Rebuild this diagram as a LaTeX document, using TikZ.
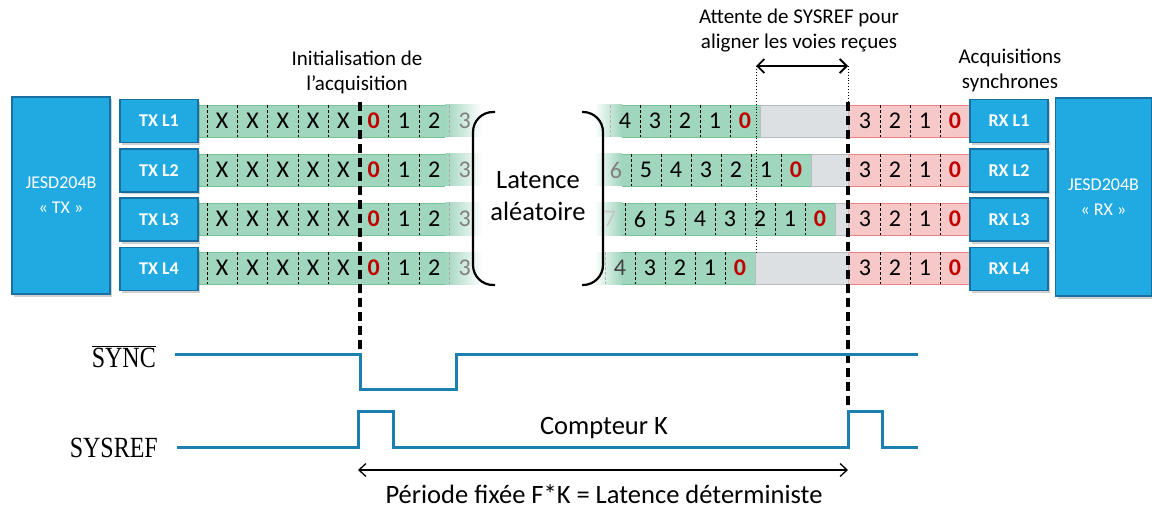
\documentclass[tikz,border=0pt]{standalone}
\usepackage{fontspec}
\usepackage{graphicx}
\setmainfont{Carlito}
\newfontfamily\serif{Liberation Serif}
\usetikzlibrary{shadows,arrows.meta}
\definecolor{blk}{RGB}{33,170,225}
\definecolor{blkborder}{RGB}{24,112,160}
\definecolor{cellg}{RGB}{160,213,190}
\definecolor{cellgb}{RGB}{120,195,150}
\definecolor{cellp}{RGB}{246,200,200}
\definecolor{cellpb}{RGB}{238,130,130}
\definecolor{cellgr}{RGB}{221,224,227}
\definecolor{cellgrb}{RGB}{185,188,190}
\definecolor{sig}{RGB}{27,128,176}
\definecolor{zero}{RGB}{192,0,0}
\begin{document}
\begin{tikzpicture}[x=1pt,y=-1pt,
  blockbox/.style={draw=blkborder, line width=1.2pt, fill=blk, text=white, inner sep=0, align=center,
    drop shadow={opacity=0.3, shadow xshift=2pt, shadow yshift=-2.5pt, fill=black!60}},
  lanebox/.style={blockbox, minimum width=78pt, minimum height=43pt, font=\fontsize{18}{18}\selectfont\bfseries},
  dig/.style={inner sep=0, font=\fontsize{24}{24}\selectfont},
  zdig/.style={inner sep=0, font=\fontsize{24}{24}\selectfont\bfseries, text=zero},
  divider/.style={line width=0.8pt, dash pattern=on 3pt off 2pt},
  bigdash/.style={line width=3.5pt, dash pattern=on 9pt off 5pt},
  wave/.style={sig, line width=3pt},
  lbl/.style={inner sep=0, align=center, font=\fontsize{21}{25}\selectfont},
  biglbl/.style={inner sep=0, align=center, font=\fontsize{26.5}{32}\selectfont},
  siglbl/.style={inner sep=0, anchor=east, font=\serif\fontsize{24}{24}\selectfont},
]
\useasboundingbox[fill=white] (0,0) rectangle (1152,508);

% ---------- TX side strips ----------
\foreach \i/\y in {1/121,2/170,3/219,4/268} {
  \fill[cellg] (199,\y-16) rectangle (445,\y+16);
  \shade[left color=cellg, right color=white] (445,\y-16) rectangle (482,\y+16);
  \draw[cellgb, line width=0.8pt] (199,\y-16) -- (445,\y-16) (199,\y+16) -- (445,\y+16);
  \foreach \k in {0,1,2,3,4,6,7}
    \draw[divider] ({207+30.3*\k},\y-16) -- ++(0,32);
  \draw[divider, gray!70] (449.4,\y-16) -- ++(0,32);
  \foreach \k in {0,...,4}
    \node[dig] (tx\i-x\k) at ({222.2+30.3*\k},\y) {X};
  \node[zdig] (tx\i-d0) at (373.7,\y) {0};
  \node[dig] (tx\i-d1) at (404,\y) {1};
  \node[dig] (tx\i-d2) at (434.3,\y) {2};
  \node[dig, text=gray] (tx\i-d3) at (464.6,\y) {3};
}

% ---------- received strips ----------
\foreach \i/\y/\first/\n/\fc in {1/121/625/4/black, 2/170/616/6/gray, 3/219/610/7/gray!45, 4/268/620/4/black!75} {
  \pgfmathsetmacro\gend{\first+30*\n+15}
  \fill[cellg] (622,\y-16) rectangle (\gend,\y+16);
  \shade[left color=white, right color=cellg] (594,\y-16) rectangle (622,\y+16);
  \draw[cellgb, line width=0.8pt] (622,\y-16) -- (\gend,\y-16) -- (\gend,\y+16) -- (622,\y+16);
  \filldraw[fill=cellgr, draw=cellgrb, line width=0.8pt] (\gend,\y-16) rectangle (848,\y+16);
  \foreach \k in {1,...,\n}
    \draw[divider] ({\first+30*\k-15},\y-16) -- ++(0,32);
  \node[dig, text=\fc] (rl\i-first) at (\first,\y) {\n};
  \pgfmathtruncatemacro\nm{\n-1}
  \foreach \k in {1,...,\nm} {
    \pgfmathtruncatemacro\d{\n-\k}
    \node[dig] (rl\i-\k) at ({\first+30*\k},\y) {\d};
  }
  \node[zdig] (rl\i-zero) at ({\first+30*\n},\y) {0};
}
\draw[divider, gray!60] (610,105) -- ++(0,32);
\draw[divider, gray!60] (605,252) -- ++(0,32);

% ---------- RX strips ----------
\foreach \i/\y in {1/121,2/170,3/219,4/268} {
  \fill[cellp] (849,\y-16) rectangle (970,\y+16);
  \draw[cellpb, line width=0.8pt] (849,\y-16) -- (970,\y-16) (849,\y+16) -- (970,\y+16);
  \foreach \xx in {880,910,940}
    \draw[divider] (\xx,\y-16) -- ++(0,32);
  \node[dig] (rx\i-d3) at (865,\y) {3};
  \node[dig] (rx\i-d2) at (895,\y) {2};
  \node[dig] (rx\i-d1) at (925,\y) {1};
  \node[zdig] (rx\i-d0) at (955,\y) {0};
}

% ---------- blocks ----------
\node[blockbox, minimum width=98pt, minimum height=197pt, font=\fontsize{18}{25}\selectfont] (txblk) at (61,195.5) {JESD204B\\« TX »};
\node[blockbox, minimum width=96pt, minimum height=198pt, font=\fontsize{18}{25}\selectfont] (rxblk) at (1103.5,197) {JESD204B\\« RX »};
\foreach \i/\y in {1/121,2/170.5,3/219.5,4/269} {
  \node[lanebox] (tx\i) at (159,\y) {TX L\i};
  \node[lanebox] (rx\i) at (1009,\y) {RX L\i};
}

% ---------- latency bracket ----------
\draw[line width=2.2pt, rounded corners=20pt] (495,112) -- (473,112) -- (473,285) -- (495,285);
\draw[line width=2.2pt, rounded corners=20pt] (582,112) -- (603,112) -- (603,285) -- (582,285);
\node[biglbl] (lat) at (538,196) {Latence\\aléatoire};

% ---------- markers ----------
\coordinate (d1top) at (360,102);
\coordinate (d1bot) at (360,351);
\coordinate (d2top) at (848,102);
\coordinate (d2bot) at (848,406);
\draw[bigdash] (d1top) -- (d1bot);
\draw[bigdash] (d2top) -- (d2bot);

\coordinate (w1) at (756,66);
\coordinate (w2) at (848,66);
\coordinate (w1b) at (756,253);
\draw[line width=0.9pt, dotted] (w1) -- (w1b);
\draw[line width=0.9pt, dotted] (w2) -- (d2top);
\draw[line width=1.8pt, {Straight Barb[length=7pt,width=14pt]}-{Straight Barb[length=7pt,width=14pt]}] (w1) -- (w2);

% ---------- waveforms ----------
\node[siglbl] (synclbl) at (156,357) {\scalebox{1}[1.22]{$\overline{\hbox{SYNC}}$}};
\node[siglbl] (sysreflbl) at (158,448) {\scalebox{1}[1.22]{SYSREF}};
\draw[wave] (175,354) -- (360,354) -- (360,389) -- (456,389) -- (456,354) -- (918,354);
\draw[wave] (177,447) -- (358,447) -- (358,411) -- (393,411) -- (393,447) -- (848,447) -- (848,411) -- (882,411) -- (882,447) -- (918,447);

\coordinate (p1) at (358,470);
\coordinate (p2) at (848,470);
\draw[line width=1.3pt, {Straight Barb[length=7pt,width=13pt]}-{Straight Barb[length=7pt,width=13pt]}] (p1) -- (p2);

% ---------- labels ----------
\node[lbl] (init) at (357,72) {Initialisation de\\l’acquisition};
\node[lbl] (att) at (799,31) {Attente de SYSREF pour\\aligner les voies reçues};
\node[lbl] (acq) at (1010,70) {Acquisitions\\synchrones};
\node[biglbl] (cpt) at (604,428) {Compteur K};
\node[biglbl] (per) at (604,494) {Période fixée F*K = Latence déterministe};
\end{tikzpicture}
\end{document}
